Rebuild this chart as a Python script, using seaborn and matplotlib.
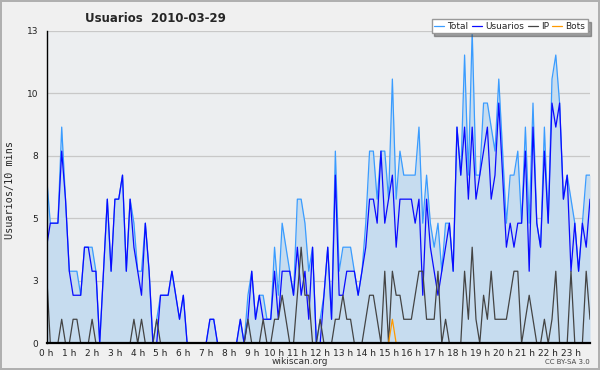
import numpy as np
import pandas as pd
import seaborn as sns
import matplotlib
matplotlib.use("Agg")
import matplotlib.pyplot as plt
from matplotlib.ticker import FixedLocator, MultipleLocator

# users per 10 minute slot, 2010-03-29 (144 slots)
total = [
    7, 5, 5, 5, 9, 6, 3, 3, 3, 2, 4, 4, 4, 3, 0, 3, 6, 3, 6, 6, 7, 3, 6, 5,
    3, 3, 5, 3, 0, 1, 2, 2, 2, 3, 2, 1, 2, 0, 0, 0, 0, 0, 0, 1, 1, 0, 0, 0,
    0, 0, 0, 1, 0, 2, 3, 1, 2, 2, 1, 1, 4, 2, 5, 4, 3, 2, 6, 6, 5, 3, 4, 0,
    1, 2, 4, 1, 8, 3, 4, 4, 4, 3, 2, 3, 5, 8, 8, 6, 8, 8, 6, 11, 6, 8, 7, 7,
    7, 7, 9, 5, 7, 5, 4, 5, 3, 5, 5, 3, 9, 7, 12, 7, 13, 7, 7, 10, 10, 9, 8, 11,
    8, 5, 7, 7, 8, 5, 9, 5, 10, 5, 4, 9, 5, 11, 12, 10, 6, 7, 6, 5, 3, 5, 7, 7,
]
usuarios = [
    4, 5, 5, 5, 8, 6, 3, 2, 2, 2, 4, 4, 3, 3, 0, 3, 6, 3, 6, 6, 7, 3, 6, 4,
    3, 2, 5, 3, 0, 0, 2, 2, 2, 3, 2, 1, 2, 0, 0, 0, 0, 0, 0, 1, 1, 0, 0, 0,
    0, 0, 0, 1, 0, 1, 3, 1, 2, 1, 1, 1, 3, 1, 3, 3, 3, 2, 4, 2, 3, 1, 4, 0,
    0, 2, 4, 1, 7, 2, 2, 3, 3, 3, 2, 3, 4, 6, 6, 5, 8, 5, 6, 7, 4, 6, 6, 6,
    6, 5, 6, 2, 6, 4, 3, 2, 3, 4, 5, 3, 9, 7, 9, 6, 9, 6, 7, 8, 9, 6, 7, 10,
    7, 4, 5, 4, 5, 5, 8, 3, 9, 5, 4, 8, 5, 10, 9, 10, 6, 7, 3, 5, 3, 5, 4, 6,
]
ip = [
    3, 0, 0, 0, 1, 0, 0, 1, 1, 0, 0, 0, 1, 0, 0, 0, 0, 0, 0, 0, 0, 0, 0, 1,
    0, 1, 0, 0, 0, 1, 0, 0, 0, 0, 0, 0, 0, 0, 0, 0, 0, 0, 0, 0, 0, 0, 0, 0,
    0, 0, 0, 0, 0, 1, 0, 0, 0, 1, 0, 0, 1, 1, 2, 1, 0, 0, 2, 4, 2, 2, 0, 0,
    1, 0, 0, 0, 1, 1, 2, 1, 1, 0, 0, 0, 1, 2, 2, 1, 0, 3, 0, 3, 2, 2, 1, 1,
    1, 2, 3, 3, 1, 1, 1, 3, 0, 1, 0, 0, 0, 0, 3, 1, 4, 1, 0, 2, 1, 3, 1, 1,
    1, 1, 2, 3, 3, 0, 1, 2, 1, 0, 0, 1, 0, 1, 3, 0, 0, 0, 3, 0, 0, 0, 3, 1,
]
bots = [
    0, 0, 0, 0, 0, 0, 0, 0, 0, 0, 0, 0, 0, 0, 0, 0, 0, 0, 0, 0, 0, 0, 0, 0,
    0, 0, 0, 0, 0, 0, 0, 0, 0, 0, 0, 0, 0, 0, 0, 0, 0, 0, 0, 0, 0, 0, 0, 0,
    0, 0, 0, 0, 0, 0, 0, 0, 0, 0, 0, 0, 0, 0, 0, 0, 0, 0, 0, 0, 0, 0, 0, 0,
    0, 0, 0, 0, 0, 0, 0, 0, 0, 0, 0, 0, 0, 0, 0, 0, 0, 0, 0, 1, 0, 0, 0, 0,
    0, 0, 0, 0, 0, 0, 0, 0, 0, 0, 0, 0, 0, 0, 0, 0, 0, 0, 0, 0, 0, 0, 0, 0,
    0, 0, 0, 0, 0, 0, 0, 0, 0, 0, 0, 0, 0, 0, 0, 0, 0, 0, 0, 0, 0, 0, 0, 0,
]
hour_labels = [f"{h} h" for h in range(24)]
y_ticks = [0, 2.6, 5.2, 7.8, 10.4, 13]
y_tick_labels = ["0", "3", "5", "8", "10", "13"]

df = pd.DataFrame({"slot": np.arange(len(total)), "Total": total,
                   "Usuarios": usuarios, "IP": ip, "Bots": bots})

sns.set_style("white")
plt.rcParams["font.family"] = ["DejaVu Sans"]

fig = plt.figure(figsize=(6, 3.7), dpi=100, facecolor="#f0f0f0")
fig.patch.set_edgecolor("#b0b0b0")
fig.patch.set_linewidth(1.5)
ax = fig.add_axes([46.5 / 600, 1 - 343.3 / 370, 543.5 / 600, 312.3 / 370])
ax.set_facecolor("#eceef0")

ax.fill_between(df["slot"], df["Total"], color="#c6dcef", lw=0, zorder=1)
series = [("Total", "#3a9cff"), ("Usuarios", "#0a0aff"), ("IP", "#444444"), ("Bots", "#ff9a00")]
for name, col in series:
    sns.lineplot(data=df, x="slot", y=name, color=col, lw=0.9, ax=ax, label=name)

ax.set_xlim(0, 143)
ax.set_ylim(0, 13)
ax.set_xlabel("")
ax.set_ylabel("")

# axes and ticks
ax.xaxis.set_major_locator(FixedLocator([h * 6 for h in range(24)]))
ax.set_xticklabels(hour_labels)
ax.xaxis.set_minor_locator(MultipleLocator(1))
ax.yaxis.set_major_locator(FixedLocator(y_ticks))
ax.set_yticklabels(y_tick_labels)
ax.yaxis.set_minor_locator(MultipleLocator(0.65))
ax.tick_params(axis="both", which="both", direction="out", color="black", width=0.8)
ax.tick_params(axis="x", which="major", length=3.5, pad=0.5, labelsize=6.5, labelcolor="#222222")
ax.tick_params(axis="x", which="minor", length=2.5)
ax.tick_params(axis="y", which="major", length=4, pad=2, labelsize=6.5, labelcolor="#222222")
ax.tick_params(axis="y", which="minor", length=2)
ax.grid(axis="y", which="major", color="#c8c8c8", lw=0.9)
ax.set_axisbelow(True)
for side in ["top", "right"]:
    ax.spines[side].set_visible(False)
ax.spines["left"].set_linewidth(1.0)
ax.spines["bottom"].set_linewidth(1.6)
for side in ["left", "bottom"]:
    ax.spines[side].set_color("black")
    ax.spines[side].set_zorder(5)

leg = ax.legend(loc="upper right", bbox_to_anchor=(588 / 600, 1 - 19 / 370),
                bbox_transform=fig.transFigure, ncol=4, fontsize=6.5,
                handlelength=1.1, handletextpad=0.35, columnspacing=0.4,
                borderpad=0.3, borderaxespad=0, fancybox=False, shadow=True,
                framealpha=1, edgecolor="#999999")
leg.set_zorder(10)

fig.text(85 / 600, 1 - 18 / 370, "Usuarios  2010-03-29", fontsize=8.5,
         fontweight="bold", ha="left", va="center")
fig.text(10 / 600, 1 - 190 / 370, "Usuarios/10 mins", rotation=90,
         family="DejaVu Sans Mono", fontsize=7.3, ha="center", va="center")
fig.text(0.5, 1 - 361 / 370, "wikiscan.org", fontsize=6.5, color="#333333",
         ha="center", va="center")
fig.text(590 / 600, 1 - 362 / 370, "CC BY-SA 3.0", fontsize=5, color="#444444",
         ha="right", va="center")

fig.savefig("out.png", dpi=100, facecolor=fig.get_facecolor(),
            edgecolor=fig.get_edgecolor())
